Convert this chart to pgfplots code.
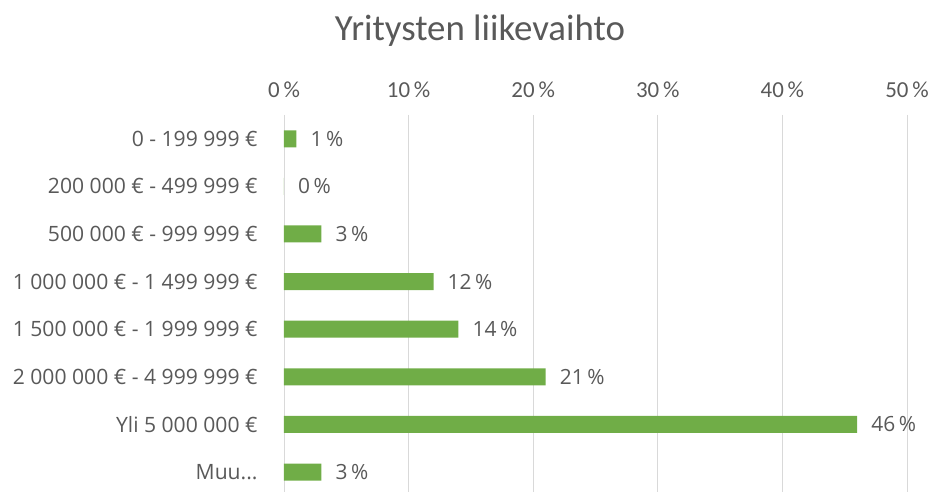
\documentclass[border=0pt]{standalone}
\usepackage{fontspec}
\setmainfont{Open Sans}
\newfontfamily\titlefont{Carlito}
\usepackage{pgfplots}
\pgfplotsset{compat=1.18}
\definecolor{bargreen}{HTML}{70AD47}
\definecolor{txtgray}{HTML}{595959}
\definecolor{gridgray}{HTML}{D9D9D9}

\begin{document}
\begin{tikzpicture}[x=1bp,y=1bp]
\begin{axis}[
    at={(0,0)}, anchor=south west,
    scale only axis, width=623bp, height=377bp,
    xbar, bar width=17bp,
    xmin=0, xmax=50,
    ymin=-0.5, ymax=7.42,
    y dir=reverse,
    axis line style={draw=none},
    tick style={draw=none},
    xmajorgrids, major grid style={gridgray, line width=0.8pt},
    xtick={0,10,20,30,40,50},
    xticklabel pos=upper,
    xticklabel={\pgfmathprintnumber[assume math mode=true]{\tick}\,\%},
    xticklabel style={font=\titlefont\fontsize{23}{26}\selectfont, text=txtgray, inner ysep=0pt, yshift=17bp},
    ytick={0,1,2,3,4,5,6,7},
    yticklabels={0 - 199 999 €, 200 000 € - 499 999 €, 500 000 € - 999 999 €,
        1 000 000 € - 1 499 999 €, 1 500 000 € - 1 999 999 €,
        2 000 000 € - 4 999 999 €, Yli 5 000 000 €, Muu.{}.{}.},
    yticklabel style={font=\fontsize{21.2}{24}\selectfont, text=txtgray, inner xsep=0pt, xshift=-22bp},
    nodes near coords={\pgfmathprintnumber[assume math mode=true]{\pgfplotspointmeta}\,\%},
    nodes near coords align=horizontal,
    every node near coord/.append style={font=\fontsize{21}{24}\selectfont, text=txtgray, inner xsep=14bp},
    clip=false,
]
\addplot[fill=bargreen, draw=none] coordinates {
    (1,0) (0,1) (3,2) (12,3) (14,4) (21,5) (46,6) (3,7)
};
\end{axis}
\node[font=\titlefont\fontsize{37}{42}\selectfont, text=txtgray] at (196,461) {Yritysten liikevaihto};
\pgfresetboundingbox
\path (-284,0) rectangle (651,492);
\end{tikzpicture}
\end{document}
